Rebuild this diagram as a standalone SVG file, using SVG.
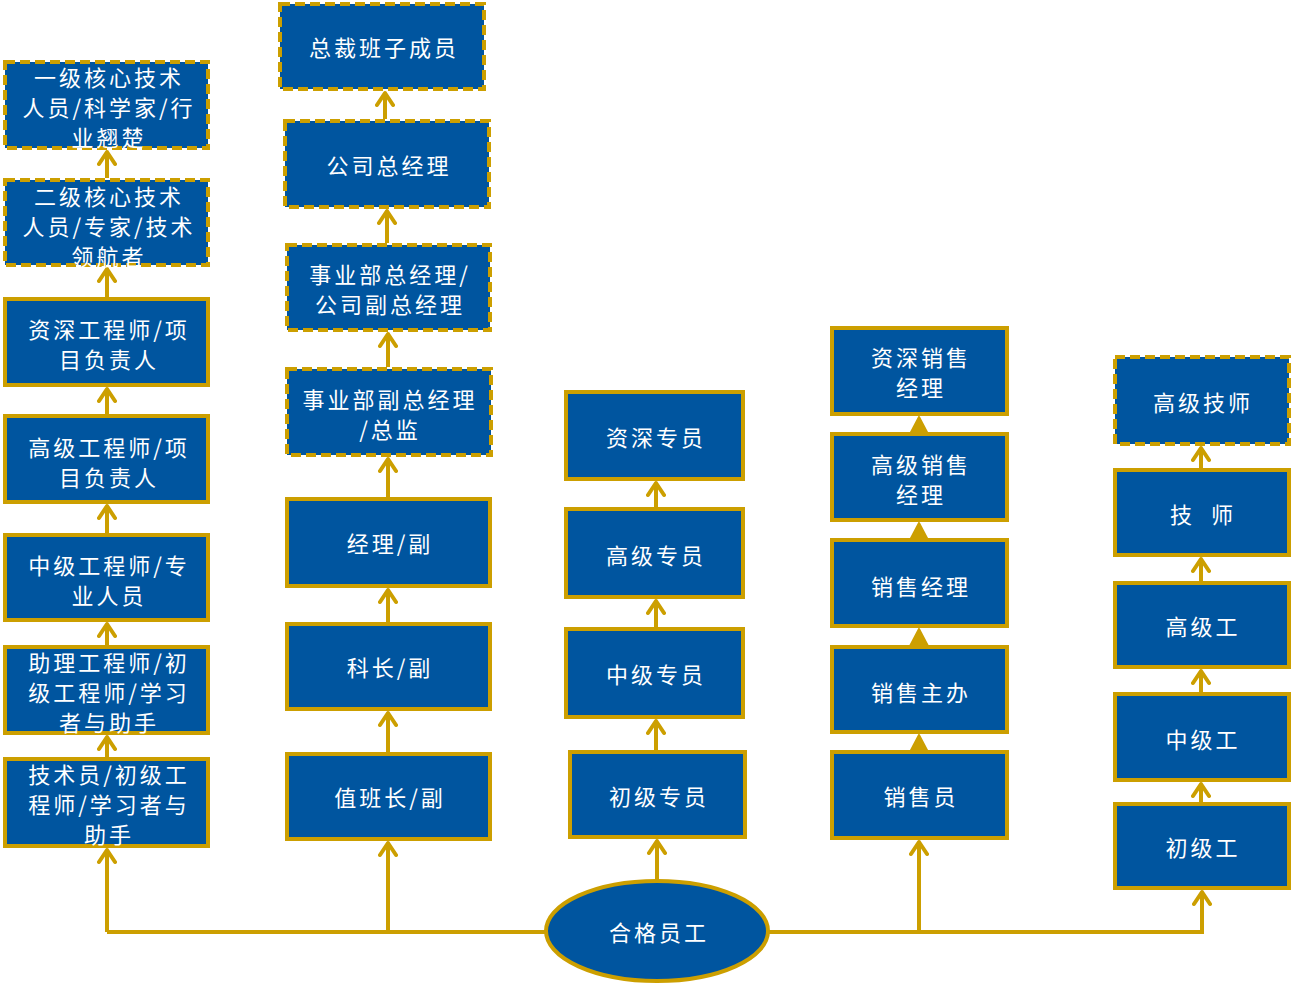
<svg xmlns="http://www.w3.org/2000/svg" width="1292" height="984" viewBox="0 0 1292 984">
<defs>
<style>
.box{fill:#00559F;stroke:#CC9F00;stroke-width:4}
.dash{stroke-dasharray:10 5}
.t{font-family:"Noto Sans CJK SC","Noto Sans",sans-serif;font-size:22px;fill:#FFFFFF;text-anchor:middle;letter-spacing:3px}
.ln{fill:none;stroke:#CC9F00;stroke-width:4}
.tri{fill:#CC9F00;stroke:#CC9F00;stroke-width:2;stroke-linejoin:round}
</style>
<marker id="arr" viewBox="0 0 20 20" refX="17" refY="10" markerWidth="20" markerHeight="20" orient="auto" markerUnits="userSpaceOnUse">
<path d="M5,2 L17,10 L5,18" fill="none" stroke="#CC9F00" stroke-width="4" stroke-linecap="round" stroke-linejoin="round"/>
</marker>
</defs>
<rect width="1292" height="984" fill="#FFFFFF"/>

<g id="connectors">
<path class="ln" d="M107,932 H546"/>
<path class="ln" d="M768,932 H1202 V892" marker-end="url(#arr)"/>
<path class="ln" d="M107,932 V850" marker-end="url(#arr)"/>
<path class="ln" d="M388,932 V843" marker-end="url(#arr)"/>
<path class="ln" d="M919,932 V842" marker-end="url(#arr)"/>
<path class="ln" d="M657,880 V841" marker-end="url(#arr)"/>
<!-- column 1 -->
<path class="ln" d="M107,757 V737" marker-end="url(#arr)"/>
<path class="ln" d="M107,645 V624" marker-end="url(#arr)"/>
<path class="ln" d="M107,533 V506" marker-end="url(#arr)"/>
<path class="ln" d="M107,414 V389" marker-end="url(#arr)"/>
<path class="ln" d="M107,297 V269" marker-end="url(#arr)"/>
<path class="ln" d="M107,178 V152" marker-end="url(#arr)"/>
<!-- column 2 -->
<path class="ln" d="M388,752 V713" marker-end="url(#arr)"/>
<path class="ln" d="M388,622 V590" marker-end="url(#arr)"/>
<path class="ln" d="M388,497 V459" marker-end="url(#arr)"/>
<path class="ln" d="M388,367 V334" marker-end="url(#arr)"/>
<path class="ln" d="M387,243 V211" marker-end="url(#arr)"/>
<path class="ln" d="M385,119 V93" marker-end="url(#arr)"/>
<!-- column 3 -->
<path class="ln" d="M656,750 V721" marker-end="url(#arr)"/>
<path class="ln" d="M656,627 V601" marker-end="url(#arr)"/>
<path class="ln" d="M656,507 V483" marker-end="url(#arr)"/>
<!-- column 4 -->
<path class="tri" d="M919,417 L909,436 L929,436 Z"/>
<path class="tri" d="M919,523 L909,542 L929,542 Z"/>
<path class="tri" d="M919,629 L909,648 L929,648 Z"/>
<path class="tri" d="M919,735 L909,754 L929,754 Z"/>
<!-- column 5 -->
<path class="ln" d="M1201,802 V784" marker-end="url(#arr)"/>
<path class="ln" d="M1201,692 V671" marker-end="url(#arr)"/>
<path class="ln" d="M1201,581 V559" marker-end="url(#arr)"/>
<path class="ln" d="M1201,468 V448" marker-end="url(#arr)"/>
</g>

<!-- column 1 -->
<g id="n-c1-1"><rect class="box dash" x="5" y="62" width="203" height="86"/>
<text class="t" x="109" y="86">一级核心技术</text><text class="t" x="109" y="116">人员/科学家/行</text><text class="t" x="109" y="146">业翘楚</text></g>
<g id="n-c1-2"><rect class="box dash" x="5" y="180" width="203" height="85"/>
<text class="t" x="109" y="205">二级核心技术</text><text class="t" x="109" y="235">人员/专家/技术</text><text class="t" x="109" y="265">领航者</text></g>
<g id="n-c1-3"><rect class="box" x="5" y="299" width="203" height="86"/>
<text class="t" x="109" y="338">资深工程师/项</text><text class="t" x="109" y="368">目负责人</text></g>
<g id="n-c1-4"><rect class="box" x="5" y="416" width="203" height="86"/>
<text class="t" x="109" y="456">高级工程师/项</text><text class="t" x="109" y="486">目负责人</text></g>
<g id="n-c1-5"><rect class="box" x="5" y="535" width="203" height="85"/>
<text class="t" x="109" y="574">中级工程师/专</text><text class="t" x="109" y="604">业人员</text></g>
<g id="n-c1-6"><rect class="box" x="5" y="647" width="203" height="86"/>
<text class="t" x="109" y="671">助理工程师/初</text><text class="t" x="109" y="701">级工程师/学习</text><text class="t" x="109" y="731">者与助手</text></g>
<g id="n-c1-7"><rect class="box" x="5" y="759" width="203" height="87"/>
<text class="t" x="109" y="783">技术员/初级工</text><text class="t" x="109" y="813">程师/学习者与</text><text class="t" x="109" y="843">助手</text></g>

<!-- column 2 -->
<g id="n-c2-1"><rect class="box dash" x="280" y="4" width="204" height="85"/>
<text class="t" x="384" y="56">总裁班子成员</text></g>
<g id="n-c2-2"><rect class="box dash" x="285" y="121" width="204" height="86"/>
<text class="t" x="389" y="174">公司总经理</text></g>
<g id="n-c2-3"><rect class="box dash" x="287" y="245" width="203" height="85"/>
<text class="t" x="390" y="283">事业部总经理/</text><text class="t" x="390" y="313">公司副总经理</text></g>
<g id="n-c2-4"><rect class="box dash" x="287" y="369" width="204" height="86"/>
<text class="t" x="390" y="408">事业部副总经理</text><text class="t" x="390" y="438">/总监</text></g>
<g id="n-c2-5"><rect class="box" x="287" y="499" width="203" height="87"/>
<text class="t" x="390" y="552">经理/副</text></g>
<g id="n-c2-6"><rect class="box" x="287" y="624" width="203" height="85"/>
<text class="t" x="390" y="676">科长/副</text></g>
<g id="n-c2-7"><rect class="box" x="287" y="754" width="203" height="85"/>
<text class="t" x="390" y="806">值班长/副</text></g>

<!-- column 3 -->
<g id="n-c3-1"><rect class="box" x="566" y="392" width="177" height="87"/>
<text class="t" x="656" y="446">资深专员</text></g>
<g id="n-c3-2"><rect class="box" x="566" y="509" width="177" height="88"/>
<text class="t" x="656" y="564">高级专员</text></g>
<g id="n-c3-3"><rect class="box" x="566" y="629" width="177" height="88"/>
<text class="t" x="656" y="683">中级专员</text></g>
<g id="n-c3-4"><rect class="box" x="570" y="752" width="175" height="85"/>
<text class="t" x="659" y="805">初级专员</text></g>

<!-- column 4 -->
<g id="n-c4-1"><rect class="box" x="832" y="328" width="175" height="86"/>
<text class="t" x="921" y="366">资深销售</text><text class="t" x="921" y="396">经理</text></g>
<g id="n-c4-2"><rect class="box" x="832" y="434" width="175" height="86"/>
<text class="t" x="921" y="473">高级销售</text><text class="t" x="921" y="503">经理</text></g>
<g id="n-c4-3"><rect class="box" x="832" y="540" width="175" height="86"/>
<text class="t" x="921" y="595">销售经理</text></g>
<g id="n-c4-4"><rect class="box" x="832" y="647" width="175" height="85"/>
<text class="t" x="921" y="701">销售主办</text></g>
<g id="n-c4-5"><rect class="box" x="832" y="752" width="175" height="86"/>
<text class="t" x="921" y="805">销售员</text></g>

<!-- column 5 -->
<g id="n-c5-1"><rect class="box dash" x="1115" y="357" width="174" height="87"/>
<text class="t" x="1203" y="411">高级技师</text></g>
<g id="n-c5-2"><rect class="box" x="1115" y="470" width="174" height="85"/>
<text class="t" x="1203" y="523" xml:space="preserve">技  师</text></g>
<g id="n-c5-3"><rect class="box" x="1115" y="583" width="174" height="84"/>
<text class="t" x="1203" y="635">高级工</text></g>
<g id="n-c5-4"><rect class="box" x="1115" y="694" width="174" height="86"/>
<text class="t" x="1203" y="748">中级工</text></g>
<g id="n-c5-5"><rect class="box" x="1115" y="804" width="174" height="84"/>
<text class="t" x="1203" y="856">初级工</text></g>

<g id="n-root"><ellipse class="box" cx="657" cy="931" rx="111" ry="50"/>
<text class="t" x="659" y="941">合格员工</text></g>
</svg>
